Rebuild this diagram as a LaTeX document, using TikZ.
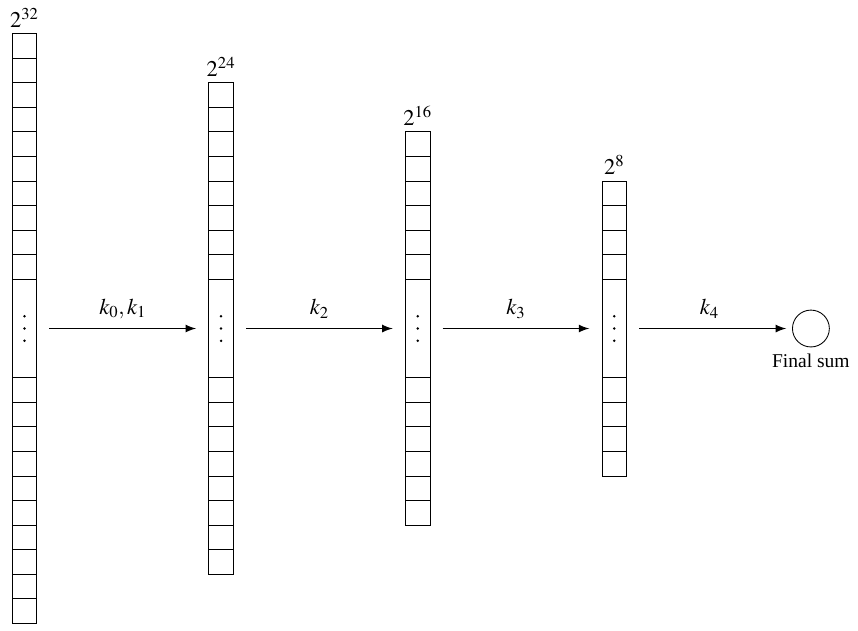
\documentclass[tikz,border=0pt]{standalone}
\usepackage{mathptmx}
\usepackage{fontspec}
\setmainfont{Liberation Serif}
\usetikzlibrary{arrows}

\tikzset{
  dotcell/.style={draw, minimum width=0.5cm, minimum height=2cm, inner sep=0pt},
  sumarrow/.style={line width=1.1pt, -latex, shorten <=0.25cm, shorten >=0.25cm},
  sizelabel/.style={font=\fontsize{13}{15}\selectfont}
}

\begin{document}
\begin{tikzpicture}[line width=0.5pt]
\useasboundingbox (-0.498,-6.134) rectangle (16.958,6.684);
\def\w{0.25}

% one column per stage: x position / cells on each side / exponent
\foreach \x/\n/\e [count=\c] in {0/10/32, 4/8/24, 8/6/16, 12/4/8} {
  \node[dotcell] (d\c) at (\x,0) {};
  \foreach \i in {1,...,\n} {
    \draw (\x-\w,1+0.5*\i-0.5) rectangle (\x+\w,1+0.5*\i);
    \draw (\x-\w,-1-0.5*\i+0.5) rectangle (\x+\w,-1-0.5*\i);
  }
  \fill (\x,0.25) circle (0.028);
  \fill (\x,0) circle (0.028);
  \fill (\x,-0.25) circle (0.028);
  \node[sizelabel, above] (t\c) at (\x,1+0.5*\n) {$2^{\e}$};
}

\node[draw, circle, minimum size=0.75cm, inner sep=0pt] (sum) at (16,0) {};
\node[below, font=\fontsize{11.3}{13}\selectfont] (sumlbl) at (sum.south) {Final sum};

\draw[sumarrow] (d1) -- node[sizelabel, above, yshift=2pt] (k1) {$k_0,k_1$} (d2);
\draw[sumarrow] (d2) -- node[sizelabel, above, yshift=2pt] (k2) {$k_2$} (d3);
\draw[sumarrow] (d3) -- node[sizelabel, above, yshift=2pt] (k3) {$k_3$} (d4);
\draw[sumarrow, shorten >=0.12cm] (d4) -- node[sizelabel, above, yshift=2pt] (k4) {$k_4$} (sum);
\end{tikzpicture}
\end{document}
